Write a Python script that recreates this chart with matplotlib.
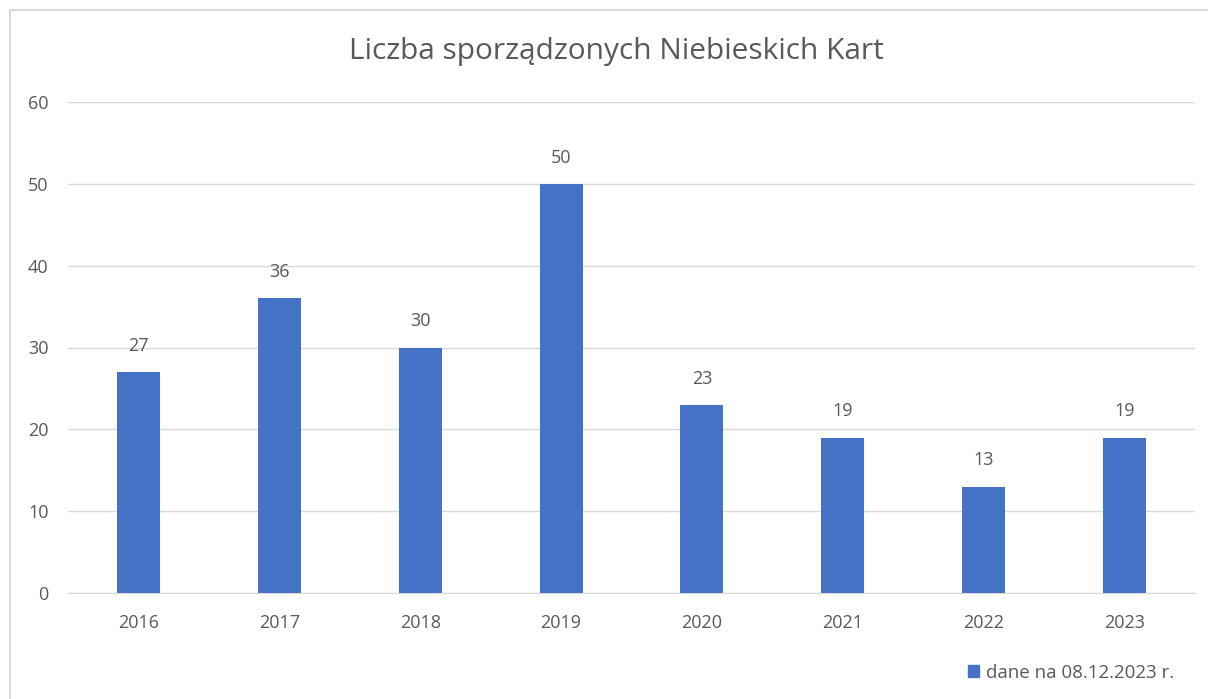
import matplotlib.pyplot as plt
from matplotlib.patches import Rectangle, Patch

# Data
years = ['2016', '2017', '2018', '2019', '2020', '2021', '2022', '2023']
counts = [27, 36, 30, 50, 23, 19, 13, 19]

title = 'Liczba sporządzonych Niebieskich Kart'
legend_label = 'dane na 08.12.2023 r.'

bar_color = '#4472C4'
text_color = '#595959'
grid_color = '#D9D9D9'

plt.rcParams['font.family'] = ['Open Sans', 'DejaVu Sans']

fig = plt.figure(figsize=(12.08, 6.99), dpi=100)
ax = fig.add_axes([68/1208, 1-593/699, (1195-68)/1208, (593-102)/699])

# Outer chart frame
fig.patches.append(Rectangle((10/1208, -0.1), 1.2, 1 - 10/699 + 0.1,
                             transform=fig.transFigure, fill=False,
                             edgecolor=grid_color, linewidth=1.5))

x = range(len(years))
bars = ax.bar(x, counts, width=0.305, color=bar_color, zorder=3)

for xi, v in zip(x, counts):
    ax.text(xi, v + 2.1, str(v), ha='center', va='bottom',
            fontsize=13, color=text_color)

ax.set_xlim(-0.5, len(years) - 0.5)
ax.set_ylim(0, 60)
ax.set_yticks(range(0, 61, 10))
ax.set_xticks(list(x))
ax.set_xticklabels(years)
ax.yaxis.grid(True, color=grid_color, linewidth=1, zorder=0)
ax.tick_params(axis='both', length=0, labelsize=13, labelcolor=text_color)
ax.tick_params(axis='y', pad=14)
ax.tick_params(axis='x', pad=15)
for s in ['top', 'right', 'left']:
    ax.spines[s].set_visible(False)
ax.spines['bottom'].set_color(grid_color)

fig.text(616/1208, 1-52/699, title, ha='center', va='center',
         fontsize=21.5, color=text_color)

ax.legend(handles=[Patch(color=bar_color, label=legend_label)],
          loc='center', bbox_to_anchor=(1071/1208, 1-673/699),
          bbox_transform=fig.transFigure, frameon=False, fontsize=13.5,
          labelcolor=text_color, handlelength=0.6, handleheight=0.6,
          handletextpad=0.4)

fig.savefig('out.png', dpi=100)
